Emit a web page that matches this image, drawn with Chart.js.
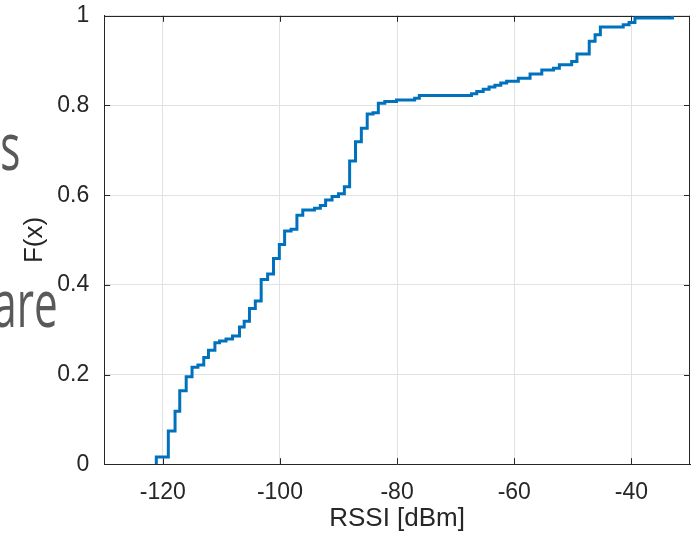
<!DOCTYPE html>
<html>
<head>
<meta charset="utf-8">
<script src="https://cdn.jsdelivr.net/npm/chart.js"></script>
<style>
  body { margin: 0; background: #fff; }
  #wrap { position: relative; width: 691px; height: 537px; overflow: hidden; }
  .bg { position: absolute; font-family: "Open Sans"; color: #595959; font-size: 66px; line-height: 66px;
        white-space: nowrap; transform: scaleX(0.64); transform-origin: right center; }
  canvas { position: absolute; left: 0; top: 0; }
</style>
</head>
<body>
<div id="wrap">
  <div class="bg" style="right:671px; top:111px;">s</div>
  <div class="bg" style="right:633px; top:268px;">are</div>
  <canvas id="myChart" width="691" height="537"></canvas>
</div>
<script>
const rssi = [-121.1, -121.1, -119.05, -117.9, -117.1, -116.0, -115.0, -114.0, -113.0, -112.2,
  -111.1, -110.3, -109.2, -108.1, -106.9, -106.1, -105.2, -104.2, -103.2, -102.1,
  -101.1, -100.1, -99.2, -98.1, -97.1, -96.1, -94.1, -93.1, -92.2, -91.1,
  -90.0, -89.0, -88.1, -87.1, -86.1, -85.1, -84.1, -83.2, -82.1, -80.1,
  -77.0, -76.2, -67.3, -66.4, -65.3, -64.3, -63.3, -62.3, -61.3, -59.3,
  -57.3, -55.3, -53.3, -52.3, -50.2, -49.3, -47.2, -46.2, -45.3, -41.4,
  -40.4, -39.4, -33.0];
const cdf = [0, 0.016, 0.074, 0.118, 0.164, 0.195, 0.216, 0.221, 0.238, 0.254,
  0.271, 0.275, 0.279, 0.286, 0.306, 0.319, 0.347, 0.364, 0.412, 0.424,
  0.459, 0.490, 0.520, 0.524, 0.555, 0.567, 0.571, 0.577, 0.589, 0.597,
  0.603, 0.619, 0.676, 0.719, 0.749, 0.781, 0.784, 0.805, 0.809, 0.8125,
  0.816, 0.822, 0.826, 0.831, 0.836, 0.841, 0.845, 0.850, 0.854, 0.861,
  0.870, 0.879, 0.883, 0.891, 0.898, 0.915, 0.943, 0.958, 0.975, 0.980,
  0.985, 0.995, 1.0];
const xTicks = [-120, -100, -80, -60, -40];
const yTicks = [0, 0.2, 0.4, 0.6, 0.8, 1];

const ink = '#262626';
const font = 'Liberation Sans';

// matlab style box with inward ticks
const boxPlugin = {
  id: 'box',
  beforeDatasetsDraw(chart) {
    const { ctx, chartArea: a, scales: { x, y } } = chart;
    ctx.save();
    ctx.strokeStyle = ink;
    ctx.lineWidth = 1;
    ctx.beginPath();
    ctx.moveTo(a.left, Math.round(a.top) + 0.5);
    ctx.lineTo(a.right, Math.round(a.top) + 0.5);
    ctx.moveTo(Math.round(a.right) - 0.5, a.top);
    ctx.lineTo(Math.round(a.right) - 0.5, a.bottom);
    xTicks.forEach(v => {
      const px = Math.round(x.getPixelForValue(v)) + 0.5;
      ctx.moveTo(px, a.bottom); ctx.lineTo(px, a.bottom - 6);
      ctx.moveTo(px, a.top); ctx.lineTo(px, a.top + 6);
    });
    yTicks.forEach(v => {
      const py = Math.round(y.getPixelForValue(v)) + 0.5;
      ctx.moveTo(a.left, py); ctx.lineTo(a.left + 6, py);
      ctx.moveTo(a.right, py); ctx.lineTo(a.right - 6, py);
    });
    ctx.stroke();
    ctx.restore();
  }
};

const ctx = document.getElementById('myChart');
const cdfChart = new Chart(ctx, {
  type: 'line',
  data: {
    datasets: [{
      data: rssi.map((v, i) => ({ x: v, y: cdf[i] })),
      borderColor: '#0072BD',
      borderWidth: 3,
      pointRadius: 0,
      stepped: true,
      fill: false
    }]
  },
  options: {
    responsive: false,
    animation: false,
    layout: { padding: { left: 19, right: 1, top: 4, bottom: 3 } },
    plugins: { legend: { display: false }, tooltip: { enabled: false } },
    scales: {
      x: {
        type: 'linear',
        min: -130,
        max: -30,
        afterBuildTicks: s => { s.ticks = xTicks.map(v => ({ value: v })); },
        grid: { color: '#e2e2e2', drawTicks: false },
        border: { color: ink },
        ticks: { color: ink, font: { family: font, size: 23 }, padding: 15, maxRotation: 0, autoSkip: false, callback: v => String(v) },
        title: { display: true, text: 'RSSI [dBm]', color: ink, font: { family: font, size: 26 }, padding: { top: -19, bottom: 0 } }
      },
      y: {
        min: 0,
        max: 1,
        afterBuildTicks: s => { s.ticks = yTicks.map(v => ({ value: v })); },
        grid: { color: '#e2e2e2', drawTicks: true, tickLength: 13, tickColor: 'rgba(0,0,0,0)' },
        border: { color: ink },
        ticks: { color: ink, font: { family: font, size: 23 }, padding: 2, autoSkip: false, callback: v => String(v) },
        title: { display: true, text: 'F(x)', color: ink, font: { family: font, size: 26 }, padding: { top: 0, bottom: 5 } }
      }
    }
  },
  plugins: [boxPlugin]
});
</script>
</body>
</html>
